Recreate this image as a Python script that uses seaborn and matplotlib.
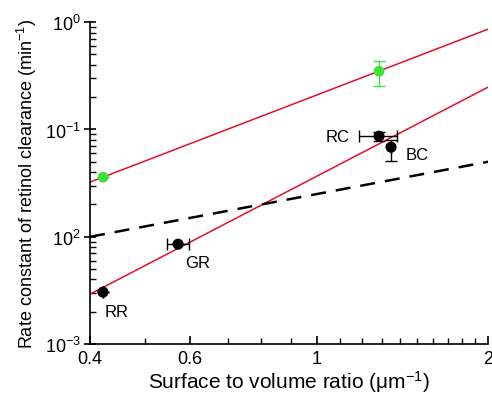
import numpy as np
import pandas as pd
import matplotlib
matplotlib.use('Agg')
import matplotlib.pyplot as plt
import matplotlib.ticker as mticker
import seaborn as sns

# values
fit_x = [0.4, 2.0]
green_fit = [0.0323, 0.86]
black_fit = [0.00292, 0.248]
ref_line = [0.01, 0.05]

green_x = [0.4215, 1.287]
green_y = [0.0359, 0.349]
green_yerr_lo = [0.0, 0.096]
green_yerr_hi = [0.0, 0.084]

cell_names = ['RR', 'GR', 'RC', 'BC']
black_x = [0.4215, 0.571, 1.287, 1.351]
black_y = [0.00305, 0.00853, 0.0866, 0.0684]
black_xerr_lo = [0.0, 0.025, 0.100, 0.0]
black_xerr_hi = [0.0, 0.026, 0.097, 0.0]
black_yerr_lo = [0.0, 0.0, 0.009, 0.0177]
black_yerr_hi = [0.0, 0.0, 0.009, 0.011]

x_ticks = [0.4, 0.6, 1, 2]
x_ticklabels = ['0.4', '0.6', '1', '2']
y_ticks = [1e-3, 1e-2, 1e-1, 1e0]
y_ticklabels = ['$10^{-3}$', '$10^{2}$', '$10^{-1}$', '$10^{0}$']

sns.set_style('ticks')
plt.rcParams['font.family'] = ['Liberation Sans', 'DejaVu Sans']
plt.rcParams['mathtext.default'] = 'regular'
for k in ['text.color', 'axes.labelcolor', 'xtick.color', 'ytick.color']:
    plt.rcParams[k] = 'black'

fig = plt.figure(figsize=(4.92, 4.06), dpi=100)
ax = fig.add_axes([0.183, 0.150, 0.809, 0.793])

fits = pd.DataFrame({'x': fit_x * 2,
                     'y': green_fit + black_fit,
                     'fit': ['green'] * 2 + ['black'] * 2})
sns.lineplot(data=fits, x='x', y='y', units='fit', estimator=None,
             color='#e3102e', lw=1.1, ax=ax, zorder=2)
ax.plot(fit_x, ref_line, color='black', lw=1.8, ls=(0, (6, 4)), zorder=2)

ax.errorbar(green_x, green_y, yerr=[green_yerr_lo, green_yerr_hi], fmt='none',
            ecolor='#3fe03a', elinewidth=1, capsize=4, zorder=3)
ax.errorbar(black_x, black_y, xerr=[black_xerr_lo, black_xerr_hi],
            yerr=[black_yerr_lo, black_yerr_hi], fmt='none',
            ecolor='black', elinewidth=1, capsize=4, zorder=3)
sns.scatterplot(x=green_x, y=green_y, color='#3fe03a', s=60, edgecolor='none',
                ax=ax, zorder=4)
sns.scatterplot(x=black_x, y=black_y, color='black', s=64, edgecolor='none',
                ax=ax, zorder=4)

offsets = {'RR': (10, -14), 'GR': (14, -13), 'RC': (-30, 0), 'BC': (19, -5)}
for name, xv, yv in zip(cell_names, black_x, black_y):
    ax.annotate(name, (xv, yv), xytext=offsets[name], textcoords='offset points',
                ha='center', va='center', fontsize=12)

ax.set_xscale('log')
ax.set_yscale('log')
ax.set_xlim(0.4, 2)
ax.set_ylim(1e-3, 1)
ax.xaxis.set_major_locator(mticker.FixedLocator(x_ticks))
ax.xaxis.set_major_formatter(mticker.FixedFormatter(x_ticklabels))
minor_x = [v for v in np.round(np.arange(0.4, 2.0, 0.1), 1) if v not in x_ticks]
ax.xaxis.set_minor_locator(mticker.FixedLocator(minor_x))
ax.xaxis.set_minor_formatter(mticker.NullFormatter())
ax.yaxis.set_major_locator(mticker.FixedLocator(y_ticks))
ax.yaxis.set_major_formatter(mticker.FixedFormatter(y_ticklabels))
ax.yaxis.set_minor_locator(mticker.LogLocator(base=10, subs=np.arange(2, 10)))
ax.yaxis.set_minor_formatter(mticker.NullFormatter())

ax.tick_params(axis='x', which='major', direction='in', length=6, width=1.2,
               labelsize=13, pad=4)
ax.tick_params(axis='x', which='minor', direction='in', length=4, width=1)
ax.tick_params(axis='y', which='major', direction='inout', length=9, width=1.2,
               labelsize=13, pad=2)
ax.tick_params(axis='y', which='minor', direction='in', length=4, width=1)

sns.despine(ax=ax)
for s in ['left', 'bottom']:
    ax.spines[s].set_linewidth(1.2)
    ax.spines[s].set_color('black')

ax.set_xlabel('Surface to volume ratio ($\\mu$m$^{-1}$)', fontsize=15, labelpad=1)
ax.set_ylabel('Rate constant of retinol clearance (min$^{-1}$)', fontsize=13,
              labelpad=4)

fig.savefig('out.png', dpi=100)
